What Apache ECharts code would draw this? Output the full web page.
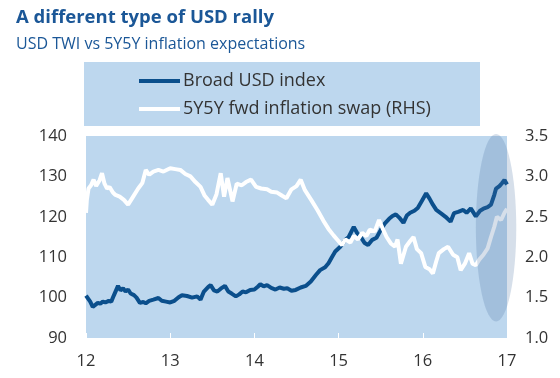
<!DOCTYPE html>
<html>
<head>
<meta charset="utf-8">
<script src="https://cdn.jsdelivr.net/npm/echarts@6/dist/echarts.min.js"></script>
<style>
html,body{margin:0;padding:0;background:#fff;}
#c{width:560px;height:378px;}
</style>
</head>
<body>
<div id="c"></div>
<script>
// ---- data (decimal years, e.g. 12.5 = mid-2012) ----
var usdYears = [12.00,12.02,12.05,12.08,12.11,12.14,12.17,12.20,12.23,12.27,12.30,12.33,12.38,12.41,12.44,12.47,12.50,12.53,12.57,12.60,12.64,12.68,12.71,12.75,12.80,12.86,12.90,12.95,13.00,13.05,13.10,13.14,13.20,13.26,13.32,13.36,13.40,13.45,13.48,13.52,13.56,13.60,13.65,13.69,13.73,13.78,13.82,13.86,13.90,13.95,14.00,14.04,14.07,14.11,14.15,14.20,14.25,14.30,14.35,14.39,14.44,14.49,14.55,14.61,14.67,14.73,14.78,14.84,14.88,14.92,14.96,15.02,15.08,15.12,15.18,15.22,15.27,15.31,15.35,15.40,15.45,15.50,15.55,15.60,15.64,15.68,15.72,15.77,15.81,15.85,15.90,15.94,15.99,16.04,16.08,16.12,16.16,16.22,16.27,16.33,16.37,16.42,16.48,16.52,16.57,16.63,16.68,16.72,16.77,16.81,16.85,16.87,16.91,16.94,16.97,17.00];
var usdIndex = [100.5,100.8,99.0,97.7,98.2,98.7,98.5,99.0,98.8,99.2,99.0,100.5,102.9,101.8,102.3,101.5,102.0,101.0,100.6,100.0,98.7,98.9,98.6,99.2,99.5,99.9,99.2,99.0,98.8,99.2,100.1,100.6,100.4,100.0,100.3,99.5,101.5,102.6,103.1,101.8,101.5,102.2,102.9,101.5,101.0,100.3,100.8,101.5,101.3,101.9,102.0,102.7,103.3,102.8,103.1,102.4,102.0,102.5,102.2,102.3,101.7,101.9,102.5,102.9,104.0,105.6,106.8,107.5,108.5,110.0,111.4,112.6,114.3,115.0,117.5,116.0,114.8,113.5,113.0,114.3,114.8,116.7,118.4,119.5,120.2,120.6,119.8,118.5,120.3,121.0,121.5,122.2,124.0,125.8,124.5,123.0,121.7,120.8,120.0,118.8,120.9,121.2,121.7,121.0,122.1,120.1,121.5,122.0,122.4,123.0,125.5,127.0,127.6,128.3,129.1,128.0];

var swapYears = [12.00,12.01,12.03,12.06,12.09,12.12,12.16,12.19,12.22,12.25,12.28,12.32,12.35,12.40,12.45,12.50,12.56,12.62,12.67,12.71,12.75,12.80,12.86,12.92,13.00,13.06,13.12,13.18,13.24,13.30,13.36,13.41,13.45,13.50,13.55,13.60,13.64,13.68,13.74,13.79,13.85,13.90,13.96,14.02,14.08,14.15,14.20,14.27,14.33,14.38,14.44,14.50,14.55,14.60,14.68,14.75,14.82,14.88,14.94,14.99,15.04,15.08,15.14,15.18,15.23,15.28,15.33,15.37,15.43,15.48,15.53,15.57,15.62,15.67,15.70,15.74,15.80,15.85,15.89,15.93,15.98,16.03,16.08,16.12,16.16,16.19,16.25,16.30,16.36,16.41,16.45,16.50,16.55,16.59,16.63,16.67,16.72,16.77,16.81,16.85,16.88,16.93,16.97,17.00];
var swap5y5y = [2.55,2.71,2.85,2.89,2.96,2.88,2.95,3.04,2.91,2.85,2.87,2.80,2.77,2.75,2.71,2.65,2.75,2.85,2.92,3.08,3.02,3.06,3.08,3.06,3.10,3.09,3.08,3.03,3.00,2.93,2.87,2.76,2.71,2.65,2.78,3.04,2.75,2.98,2.69,2.91,2.89,2.93,2.96,2.87,2.85,2.84,2.81,2.80,2.76,2.73,2.84,2.88,2.96,2.83,2.70,2.58,2.45,2.35,2.27,2.21,2.15,2.22,2.18,2.26,2.22,2.30,2.26,2.34,2.32,2.46,2.34,2.25,2.17,2.13,2.22,1.92,2.13,2.20,2.25,2.10,2.05,1.88,1.85,1.80,1.95,2.05,2.10,2.13,2.03,2.00,1.84,1.92,2.05,1.92,1.90,1.97,2.03,2.11,2.25,2.38,2.50,2.46,2.55,2.60];

var xTicks = ['12','13','14','15','16','17'];
var leftTicks = [90,100,110,120,130,140];
var rightTicks = ['1.0','1.5','2.0','2.5','3.0','3.5'];
var seriesNames = ['Broad USD index','5Y5Y fwd inflation swap (RHS)'];
var titleText = 'A different type of USD rally';
var subtitleText = 'USD TWI vs 5Y5Y inflation expectations';

function pairs(xs, ys){ return xs.map(function(x,i){ return [x, ys[i]]; }); }

var FONT = '"Open Sans", "Noto Sans", sans-serif';
var chart = echarts.init(document.getElementById('c'), null, {renderer:'canvas'});

var option = {
  animation:false,
  backgroundColor:'#ffffff',
  title:[
    {text:titleText, left:11, top:3, textStyle:{fontFamily:FONT, fontSize:18.5, fontWeight:'bold', color:'#1b5797'}},
    {text:subtitleText, left:11, top:31, textStyle:{fontFamily:FONT, fontSize:16, fontWeight:'normal', color:'#1b5797'}}
  ],
  legend:{
    orient:'vertical', left:134, top:67, itemGap:10, itemWidth:41, itemHeight:4,
    icon:'rect',
    textStyle:{fontFamily:FONT, fontSize:18, color:'#333333', padding:[0,0,0,-2]},
    data:[
      {name:seriesNames[0], itemStyle:{color:'#0b4f8c'}},
      {name:seriesNames[1], itemStyle:{color:'#ffffff'}}
    ]
  },
  grid:{left:86, right:53, top:136, bottom:40, show:true, backgroundColor:'#bdd7ee', borderWidth:0},
  xAxis:{
    type:'value', min:12, max:17, interval:1,
    axisLine:{show:false},
    axisTick:{show:true, inside:true, length:5, lineStyle:{color:'#ffffff', width:1}},
    splitLine:{show:false},
    axisLabel:{margin:15, fontFamily:FONT, fontSize:16.5, color:'#333333',
      formatter:function(v){ return xTicks[Math.round(v-12)]; }}
  },
  yAxis:[
    {type:'value', min:90, max:140, interval:10, position:'left',
     axisLine:{show:false}, axisTick:{show:false}, splitLine:{show:false},
     axisLabel:{margin:19, fontFamily:FONT, fontSize:16.5, color:'#333333',
       formatter:function(v){ return String(leftTicks[Math.round((v-90)/10)]); }}},
    {type:'value', min:1.0, max:3.5, interval:0.5, position:'right',
     axisLine:{show:false}, axisTick:{show:false}, splitLine:{show:false},
     axisLabel:{margin:18, fontFamily:FONT, fontSize:16.5, color:'#333333',
       formatter:function(v){ return rightTicks[Math.round((v-1)/0.5)]; }}}
  ],
  series:[
    {name:seriesNames[0], type:'line', yAxisIndex:0, data:pairs(usdYears, usdIndex),
     showSymbol:false, symbol:'none', lineStyle:{color:'#0b4f8c', width:4}, itemStyle:{color:'#0b4f8c'}, z:2},
    {name:seriesNames[1], type:'line', yAxisIndex:1, data:pairs(swapYears, swap5y5y),
     showSymbol:false, symbol:'none', lineStyle:{color:'#ffffff', width:4}, itemStyle:{color:'#ffffff'}, z:3}
  ]
};
chart.setOption(option);

// legend box and highlight ellipse around the latest move
var c = chart.convertToPixel({xAxisIndex:0, yAxisIndex:0}, [16.87, 117.3]);
var edge = chart.convertToPixel({xAxisIndex:0, yAxisIndex:0}, [17.11, 140.5]);
var rx = edge[0]-c[0], ry = c[1]-edge[1];
chart.setOption({graphic:[
  {type:'rect', left:84, top:62, shape:{width:396, height:64}, style:{fill:'#bdd7ee'}, z:0},
  {type:'circle', x:c[0], y:c[1], scaleX:rx/ry, shape:{cx:0, cy:0, r:ry},
   style:{fill:'rgba(70,110,160,0.22)'}, z:10}
]});
</script>
</body>
</html>
